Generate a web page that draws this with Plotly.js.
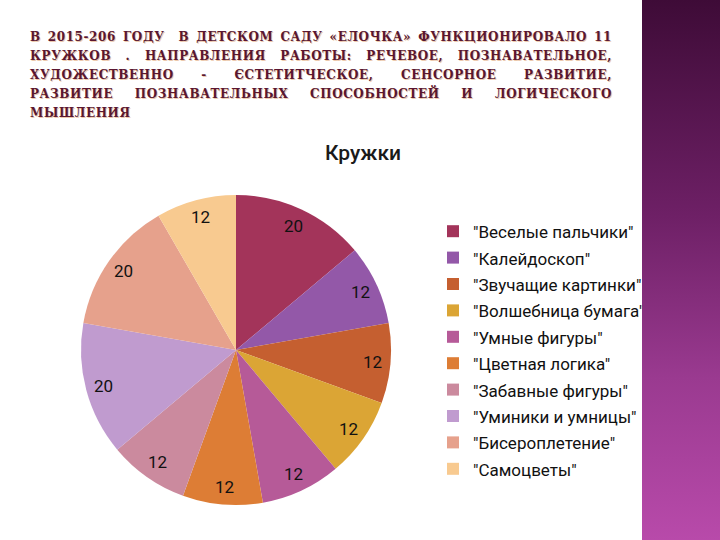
<!DOCTYPE html>
<html>
<head>
<meta charset="utf-8">
<script src="https://cdn.plot.ly/plotly-3.0.1.min.js"></script>
<style>
  html, body { margin: 0; padding: 0; background: #ffffff; }
  #wrap { position: relative; width: 720px; height: 540px; overflow: hidden; background: #ffffff; }
  #chart { position: absolute; left: 0; top: 0; width: 720px; height: 540px; }
  #heading { position: absolute; left: 30px; top: 28px; width: 582px; z-index: 3;
    font-family: 'DejaVu Serif', serif; font-weight: bold; font-size: 12px; line-height: 19px;
    letter-spacing: 0.6px; color: #5a1630; text-shadow: 1px 1px 0 #ecc9ad; }
  #heading .ln { white-space: nowrap; text-align: justify; text-align-last: justify; }
  #heading .ln.last { text-align: left; text-align-last: left; }
  #bar { position: absolute; left: 642px; top: 0; width: 78px; height: 540px; z-index: 2;
    background: linear-gradient(to bottom, #3e0b37 0%, #6e2066 40%, #9a3a90 70%, #b84aaa 100%); }
</style>
</head>
<body>
<div id="wrap">
  <div id="chart"></div>
  <div id="bar"></div>
  <div id="heading">
    <div class="ln">В 2015-206 ГОДУ&nbsp; В ДЕТСКОМ САДУ «ЕЛОЧКА» ФУНКЦИОНИРОВАЛО 11</div>
    <div class="ln">КРУЖКОВ . НАПРАВЛЕНИЯ РАБОТЫ: РЕЧЕВОЕ, ПОЗНАВАТЕЛЬНОЕ,</div>
    <div class="ln">ХУДОЖЕСТВЕННО - ЄСТЕТИТЧЕСКОЕ, СЕНСОРНОЕ РАЗВИТИЕ,</div>
    <div class="ln">РАЗВИТИЕ ПОЗНАВАТЕЛЬНЫХ СПОСОБНОСТЕЙ И ЛОГИЧЕСКОГО</div>
    <div class="ln last">МЫШЛЕНИЯ</div>
  </div>
</div>
<script>
const labels = [
  '"Веселые пальчики"',
  '"Калейдоскоп"',
  '"Звучащие картинки"',
  '"Волшебница бумага"',
  '"Умные фигуры"',
  '"Цветная логика"',
  '"Забавные фигуры"',
  '"Уминики и умницы"',
  '"Бисероплетение"',
  '"Самоцветы"'
];
const values = [20, 12, 12, 12, 12, 12, 12, 20, 20, 12];
const colors = ['#a3345a', '#9358a8', '#c55f30', '#dba535', '#b65a98',
                '#dd7d35', '#cb8a9e', '#c09bcf', '#e6a18c', '#f8ca90'];
const chartTitle = 'Кружки';

const W = 720, H = 540;
// pie domain in paper fraction
const dom = { x: [81 / W, 391 / W], y: [1 - 505 / H, 1 - 195 / H] };
const cxPx = (dom.x[0] + dom.x[1]) / 2 * W;
const cyPx = (1 - (dom.y[0] + dom.y[1]) / 2) * H;
const rPx = Math.min((dom.x[1] - dom.x[0]) * W, (dom.y[1] - dom.y[0]) * H) / 2;

const total = values.reduce((a, b) => a + b, 0);
let cum = 0;
const annotations = values.map(v => {
  const mid = (cum + v / 2) / total * 2 * Math.PI;
  cum += v;
  const k = 0.885;
  const px = cxPx + k * rPx * Math.sin(mid);
  const py = cyPx - k * rPx * Math.cos(mid);
  return {
    x: px / W, y: 1 - py / H, xref: 'paper', yref: 'paper',
    text: String(v), showarrow: false, xanchor: 'center', yanchor: 'middle',
    font: { family: 'Roboto, sans-serif', size: 17, color: '#111111' }
  };
});

const trace = {
  type: 'pie',
  labels: labels.map(l => '<span style="font-size:17px">' + l + '</span>'),
  values: values,
  marker: { colors: colors, line: { width: 0 } },
  sort: false,
  direction: 'clockwise',
  rotation: 0,
  textinfo: 'none',
  hoverinfo: 'label+value',
  domain: dom
};

const layout = {
  width: W, height: H,
  margin: { l: 0, r: 0, t: 0, b: 0 },
  paper_bgcolor: '#ffffff',
  plot_bgcolor: '#ffffff',
  title: {
    text: chartTitle,
    x: 363 / W, xanchor: 'center',
    y: 1 - 153 / H, yanchor: 'middle',
    font: { family: 'Roboto, sans-serif', size: 21, color: '#1a1a1a', weight: 500 }
  },
  showlegend: true,
  legend: {
    x: 433 / W, xanchor: 'left',
    y: 1 - 213 / H, yanchor: 'top',
    font: { family: 'Roboto, sans-serif', size: 18, color: '#111111' },
    bgcolor: 'rgba(0,0,0,0)'
  },
  annotations: annotations
};

Plotly.newPlot('chart', [trace], layout, { staticPlot: true, displayModeBar: false });
</script>
</body>
</html>
